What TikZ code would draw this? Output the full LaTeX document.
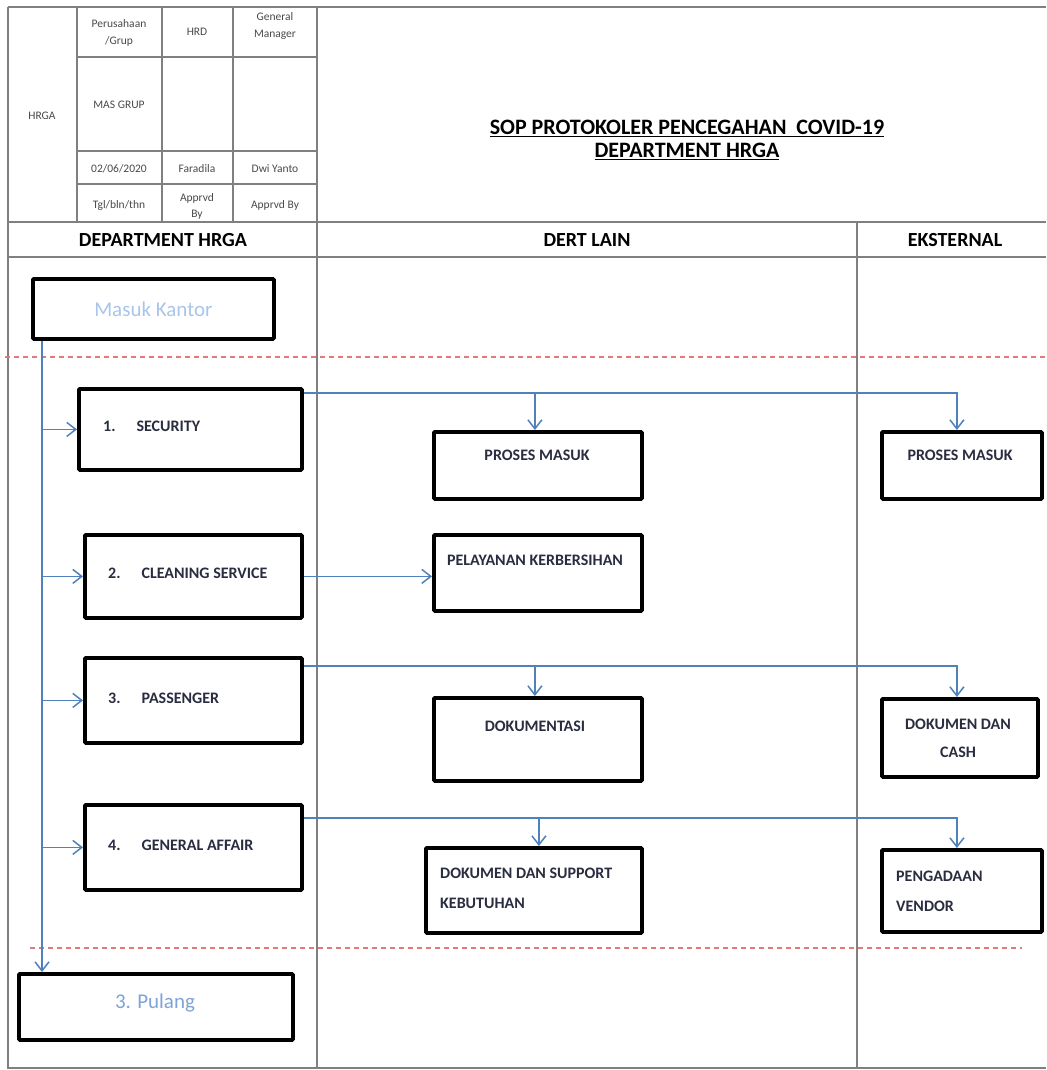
\documentclass[tikz,border=0pt]{standalone}
\usepackage{fontspec}
\setmainfont{Carlito}
\usetikzlibrary{arrows.meta}
\definecolor{flow}{HTML}{4F81BD}
\definecolor{redline}{HTML}{E07A7A}
\definecolor{mkblue}{HTML}{A9C5EA}
\definecolor{pulblue}{HTML}{7FA3D8}
\definecolor{boxtext}{HTML}{2A2D40}
\definecolor{gridline}{HTML}{808080}
\definecolor{tabtext}{HTML}{4A4A4A}
\begin{document}
\begin{tikzpicture}[x=1pt,y=-1pt,
  box/.style={draw=black,line width=3.8pt,rounded corners=1pt,inner sep=0pt,anchor=north west},
  btxt/.style={text=boxtext,font=\fontsize{16}{30}\selectfont\bfseries,inner sep=0pt},
  tab/.style={text=tabtext,font=\fontsize{11.5}{17}\selectfont,align=center,inner sep=0pt},
  lane/.style={font=\fontsize{20}{22}\selectfont\bfseries,inner sep=0pt},
  grid/.style={draw=gridline,line width=1.2pt},
  sep/.style={draw=redline,line width=1.5pt,dash pattern=on 5pt off 4pt},
  flowline/.style={draw=flow,line width=1.5pt},
  arr/.style={flowline,-{Straight Barb[length=9pt,width=14pt,line width=1.5pt]}}
]
\useasboundingbox (0,0) rectangle (1046,1070);
\fill[white] (0,0) rectangle (1046,1070);

% frame and lanes
\draw[grid] (8,7) -- (1046,7);
\draw[grid] (8,7) -- (8,1068) -- (1046,1068);
\draw[grid] (8,222) -- (1046,222);
\draw[grid] (8,257) -- (1046,257);
\draw[grid] (317,7) -- (317,1068);
\draw[grid] (857,222) -- (857,1068);
% header table
\draw[grid] (77,7) -- (77,222);
\draw[grid] (162,7) -- (162,222);
\draw[grid] (233,7) -- (233,222);
\draw[grid] (77,57) -- (317,57);
\draw[grid] (77,151) -- (317,151);
\draw[grid] (77,184) -- (317,184);

\node[tab] (hrga) at (42,116) {HRGA};
\node[tab] (pg) at (119,33) {Perusahaan\\/Grup};
\node[tab] (hrd) at (197,32) {HRD};
\node[tab] (gm) at (275,26) {General\\Manager};
\node[tab] (mas) at (119,105) {MAS GRUP};
\node[tab] (tgl1) at (119,169) {02/06/2020};
\node[tab] (far) at (197,169) {Faradila};
\node[tab] (dwi) at (275,169) {Dwi Yanto};
\node[tab] (tgl2) at (119,205) {Tgl/bln/thn};
\node[tab,font=\fontsize{11.5}{16}\selectfont] (ap1) at (197,206) {Apprvd\\By};
\node[tab] (ap2) at (275,205) {Apprvd By};

% title
\node[font=\fontsize{22}{23}\selectfont\bfseries,align=center] (title) at (687,140)
  {\underline{SOP PROTOKOLER PENCEGAHAN\ \ COVID-19}\\\underline{DEPARTMENT HRGA}};

% lane headers
\node[lane] (l1) at (163,240) {DEPARTMENT HRGA};
\node[lane] (l2) at (587,240) {DERT LAIN};
\node[lane] (l3) at (955,240) {EKSTERNAL};

% separators
\draw[sep] (5,357) -- (1046,357);
\draw[sep] (30,948) -- (1022,948);

% boxes left
\node[box,minimum width=241pt,minimum height=60pt] (mk) at (31,277) {};
\node[text=mkblue,font=\fontsize{21}{24}\selectfont,inner sep=0pt] (mkt) at (mk.center) {Masuk Kantor};
\node[box,minimum width=223pt,minimum height=81pt] (sec) at (77,387) {};
\node[btxt,anchor=west] (sect) at (103,426) {1.\hspace{21pt}SECURITY};
\node[box,minimum width=217pt,minimum height=83pt] (cs) at (83,533) {};
\node[btxt,anchor=west] (cst) at (108,573) {2.\hspace{21pt}CLEANING SERVICE};
\node[box,minimum width=217pt,minimum height=85pt] (pas) at (83,656) {};
\node[btxt,anchor=west] (past) at (108,698) {3.\hspace{21pt}PASSENGER};
\node[box,minimum width=217pt,minimum height=85pt] (ga) at (83,803) {};
\node[btxt,anchor=west] (gat) at (108,845) {4.\hspace{21pt}GENERAL AFFAIR};
\node[box,minimum width=274pt,minimum height=66pt] (pul) at (17,972) {};
\node[text=pulblue,font=\fontsize{21}{24}\selectfont,inner sep=0pt] (pult) at (155,1003) {3. Pulang};

% boxes middle
\node[box,minimum width=208pt,minimum height=67pt] (pm1) at (432,430) {};
\node[btxt] (pm1t) at (537,455) {PROSES MASUK};
\node[box,minimum width=208pt,minimum height=76pt] (pk) at (432,533) {};
\node[btxt] (pkt) at (535,560) {PELAYANAN KERBERSIHAN};
\node[box,minimum width=208pt,minimum height=83pt] (dok) at (432,696) {};
\node[btxt] (dokt) at (535,726) {DOKUMENTASI};
\node[box,minimum width=216pt,minimum height=85pt] (ds) at (424,846) {};
\node[btxt,anchor=west,align=left] (dst) at (440,888) {DOKUMEN DAN SUPPORT\\KEBUTUHAN};

% boxes external
\node[box,minimum width=160pt,minimum height=67pt] (pm2) at (880,430) {};
\node[btxt] (pm2t) at (960,455) {PROSES MASUK};
\node[box,minimum width=156pt,minimum height=78pt] (dc) at (880,697) {};
\node[btxt,align=center,font=\fontsize{16}{28}\selectfont\bfseries] (dct) at (958,738) {DOKUMEN DAN\\CASH};
\node[box,minimum width=160pt,minimum height=82pt] (pv) at (880,848) {};
\node[btxt,anchor=west,align=left] (pvt) at (896,891) {PENGADAAN\\VENDOR};

% connectors
\coordinate (tr) at ([xshift=11pt]mk.south west);
\draw[arr] (tr) -- (tr |- pul.north);
\draw[arr] (tr |- sec.west) -- (sec.west);
\draw[arr] (tr |- cs.west) -- (cs.west);
\draw[arr] (tr |- pas.west) -- (pas.west);
\draw[arr] (tr |- ga.west) -- (ga.west);

\coordinate (s1) at ([yshift=-6pt]sec.north east);
\coordinate (d1) at ([xshift=-3pt]pm1.north);
\coordinate (d2) at ([xshift=-5pt]pm2.north);
\draw[arr] (s1) -| (d2);
\draw[arr] (s1 -| d1) -- (d1);

\draw[arr] (cs.east) -- (cs.east -| pk.west);

\coordinate (p1) at ([yshift=-10pt]pas.north east);
\coordinate (d3) at ([xshift=-3pt]dok.north);
\coordinate (d4) at ([xshift=-3pt]dc.north);
\draw[arr] (p1) -| (d4);
\draw[arr] (p1 -| d3) -- (d3);

\coordinate (g1) at ([yshift=-15pt]ga.north east);
\coordinate (d5) at ([xshift=5pt]ds.north);
\coordinate (d6) at ([xshift=-5pt]pv.north);
\draw[arr] (g1) -| (d6);
\draw[arr] (g1 -| d5) -- (d5);
\end{tikzpicture}
\end{document}
